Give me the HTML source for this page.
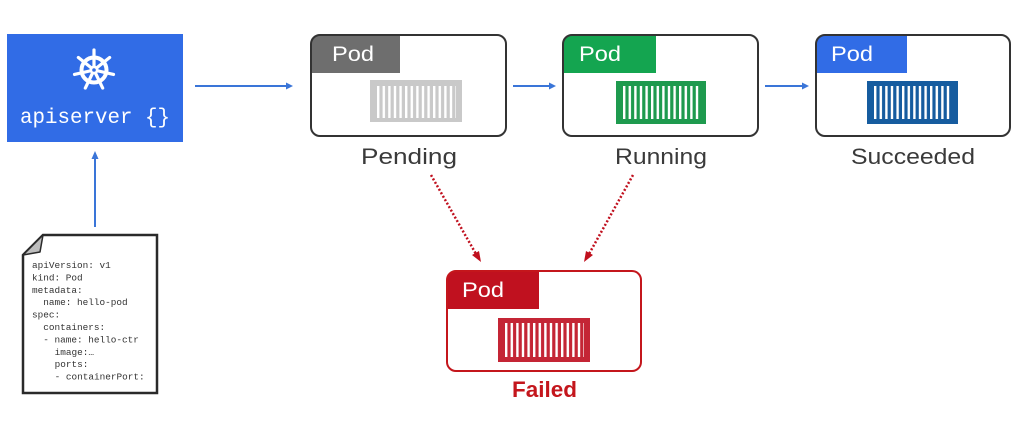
<!DOCTYPE html>
<html><head><meta charset="utf-8"><style>
html,body{margin:0;padding:0;background:#fff;}
svg{display:block;}
</style></head><body>
<svg width="1024" height="446" viewBox="0 0 1024 446" xmlns="http://www.w3.org/2000/svg">
<defs>
  <pattern id="st" patternUnits="userSpaceOnUse" x="7" y="0" width="5.6" height="60">
    <rect x="0" y="0" width="2.4" height="60" fill="#fff"/>
  </pattern>
  <clipPath id="c1"><rect x="311" y="35" width="195" height="101" rx="9"/></clipPath>
  <clipPath id="c2"><rect x="563" y="35" width="195" height="101" rx="9"/></clipPath>
  <clipPath id="c3"><rect x="816" y="35" width="194" height="101" rx="9"/></clipPath>
  <clipPath id="c4"><rect x="447" y="271" width="194" height="100" rx="9"/></clipPath>
</defs>

<!-- apiserver -->
<rect x="7" y="34" width="176" height="108" fill="#316ce6"/>
<g transform="translate(94,70)" stroke="#fff" fill="none" stroke-linecap="round">
  <circle r="12.5" stroke-width="4"/>
  <g stroke-width="3.2">
    <line x1="0" y1="0" x2="0" y2="-20" transform="rotate(0)"/>
    <line x1="0" y1="0" x2="0" y2="-20" transform="rotate(51.43)"/>
    <line x1="0" y1="0" x2="0" y2="-20" transform="rotate(102.86)"/>
    <line x1="0" y1="0" x2="0" y2="-20" transform="rotate(154.29)"/>
    <line x1="0" y1="0" x2="0" y2="-20" transform="rotate(205.71)"/>
    <line x1="0" y1="0" x2="0" y2="-20" transform="rotate(257.14)"/>
    <line x1="0" y1="0" x2="0" y2="-20" transform="rotate(308.57)"/>
  </g>
  <circle r="4.5" fill="#fff" stroke="none"/>
  <circle r="1.8" fill="#316ce6" stroke="none"/>
</g>
<text x="95" y="123" text-anchor="middle" font-family="Liberation Mono, monospace" font-size="21" fill="#fff" textLength="150" lengthAdjust="spacingAndGlyphs">apiserver {}</text>

<!-- blue arrows -->
<g stroke="#3a75d8" stroke-width="2" fill="#3a75d8">
  <line x1="195" y1="86" x2="287" y2="86"/>
  <polygon points="293,86 286,82.5 286,89.5" stroke="none"/>
  <line x1="513" y1="86" x2="550" y2="86"/>
  <polygon points="556,86 549,82.5 549,89.5" stroke="none"/>
  <line x1="765" y1="86" x2="803" y2="86"/>
  <polygon points="809,86 802,82.5 802,89.5" stroke="none"/>
  <line x1="95" y1="227" x2="95" y2="158"/>
  <polygon points="95,151 91.5,159 98.5,159" stroke="none"/>
</g>

<!-- Pending -->
<rect x="311" y="35" width="195" height="101" rx="9" fill="#fff"/>
<rect x="311" y="35" width="89" height="38" fill="#6e6e6e" clip-path="url(#c1)"/>
<rect x="311" y="35" width="195" height="101" rx="9" fill="none" stroke="#333" stroke-width="2"/>
<text x="332" y="61" font-family="Liberation Sans, sans-serif" font-size="21" fill="#fff" textLength="42" lengthAdjust="spacingAndGlyphs">Pod</text>
<g transform="translate(370,80)">
  <rect width="92" height="42" fill="#c9c9c9"/>
  <rect x="7" y="6" width="79" height="32" fill="url(#st)"/>
</g>
<text x="409" y="164" text-anchor="middle" font-family="Liberation Sans, sans-serif" font-size="22" fill="#3a3a3a" textLength="96" lengthAdjust="spacingAndGlyphs">Pending</text>

<!-- Running -->
<rect x="563" y="35" width="195" height="101" rx="9" fill="#fff"/>
<rect x="563" y="35" width="93" height="38" fill="#14a550" clip-path="url(#c2)"/>
<rect x="563" y="35" width="195" height="101" rx="9" fill="none" stroke="#333" stroke-width="2"/>
<text x="579" y="61" font-family="Liberation Sans, sans-serif" font-size="21" fill="#fff" textLength="42" lengthAdjust="spacingAndGlyphs">Pod</text>
<g transform="translate(616,81)">
  <rect width="90" height="43" fill="#1e9a4e"/>
  <rect x="7" y="5" width="77" height="33" fill="url(#st)"/>
</g>
<text x="661" y="164" text-anchor="middle" font-family="Liberation Sans, sans-serif" font-size="22" fill="#3a3a3a" textLength="92" lengthAdjust="spacingAndGlyphs">Running</text>

<!-- Succeeded -->
<rect x="816" y="35" width="194" height="101" rx="9" fill="#fff"/>
<rect x="816" y="35" width="91" height="38" fill="#316ce6" clip-path="url(#c3)"/>
<rect x="816" y="35" width="194" height="101" rx="9" fill="none" stroke="#333" stroke-width="2"/>
<text x="831" y="61" font-family="Liberation Sans, sans-serif" font-size="21" fill="#fff" textLength="42" lengthAdjust="spacingAndGlyphs">Pod</text>
<g transform="translate(867,81)">
  <rect width="91" height="43" fill="#165c9f"/>
  <rect x="7" y="5" width="78" height="33" fill="url(#st)"/>
</g>
<text x="913" y="164" text-anchor="middle" font-family="Liberation Sans, sans-serif" font-size="22" fill="#3a3a3a" textLength="124" lengthAdjust="spacingAndGlyphs">Succeeded</text>

<!-- dotted red arrows -->
<g stroke="#c0101e" stroke-width="2.5" stroke-dasharray="2 2" fill="none">
  <line x1="431" y1="175" x2="476" y2="254"/>
  <line x1="633" y1="175" x2="589" y2="254"/>
</g>
<g fill="#c0101e">
  <polygon points="481,262 472,255 479,251"/>
  <polygon points="584,262 586,251 593,255"/>
</g>

<!-- Failed -->
<rect x="447" y="271" width="194" height="100" rx="9" fill="#fff"/>
<rect x="447" y="271" width="92" height="38" fill="#c0111f" clip-path="url(#c4)"/>
<rect x="447" y="271" width="194" height="100" rx="9" fill="none" stroke="#c4161c" stroke-width="2"/>
<text x="462" y="297" font-family="Liberation Sans, sans-serif" font-size="21" fill="#fff" textLength="42" lengthAdjust="spacingAndGlyphs">Pod</text>
<g transform="translate(498,318)">
  <rect width="92" height="44" fill="#c42535"/>
  <rect x="7" y="5" width="79" height="34" fill="url(#st)"/>
</g>
<text x="544.5" y="397" text-anchor="middle" font-family="Liberation Sans, sans-serif" font-size="22" font-weight="bold" fill="#c4161c" textLength="65" lengthAdjust="spacingAndGlyphs">Failed</text>

<!-- YAML document -->
<polygon points="43,235 157,235 157,393 23,393 23,255" fill="#fff" stroke="#2a2a2a" stroke-width="2.5" stroke-linejoin="miter"/>
<polygon points="43,235 23,255 40,252" fill="#bdbdbd" stroke="#2a2a2a" stroke-width="1.5" stroke-linejoin="round"/>
<g font-family="Liberation Mono, monospace" font-size="9.4" fill="#333">
  <text x="32" y="268">apiVersion: v1</text>
  <text x="32" y="280.4">kind: Pod</text>
  <text x="32" y="292.8">metadata:</text>
  <text x="43.3" y="305.2">name: hello-pod</text>
  <text x="32" y="317.6">spec:</text>
  <text x="43.3" y="330">containers:</text>
  <text x="43.3" y="342.4">- name: hello-ctr</text>
  <text x="54.6" y="354.8">image:…</text>
  <text x="54.6" y="367.2">ports:</text>
  <text x="54.6" y="379.6">- containerPort:</text>
</g>
</svg>
</body></html>
